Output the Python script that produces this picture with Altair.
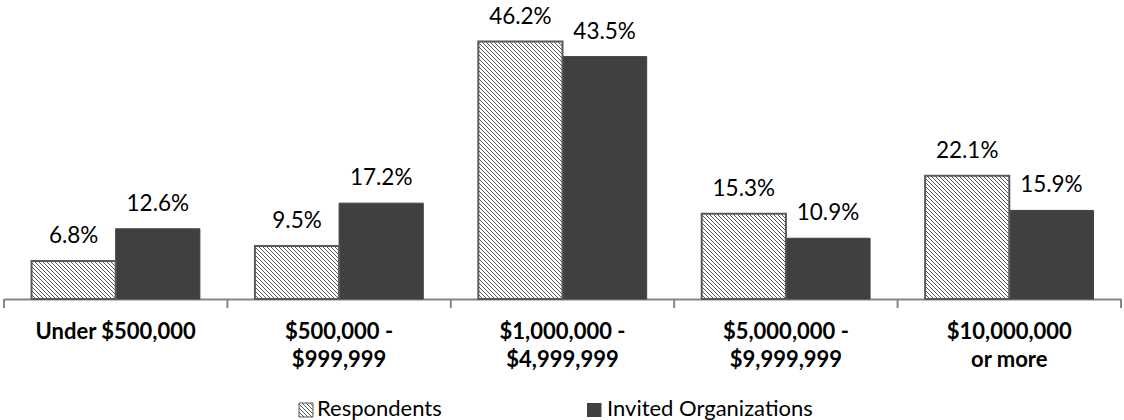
import math

import altair as alt
import pandas as pd

# Budget bands and the share of each group falling in them (%)
categories = [
    "Under $500,000",
    "$500,000 -\n$999,999",
    "$1,000,000 -\n$4,999,999",
    "$5,000,000 -\n$9,999,999",
    "$10,000,000\nor more",
]
series = ["Respondents", "Invited Organizations"]
respondents = [6.8, 9.5, 46.2, 15.3, 22.1]
invited = [12.6, 17.2, 43.5, 10.9, 15.9]

# Layout
W = 1117          # plot width
H = 278.6         # plot height
YMAX = 50
PAD_OUTER = 0.327  # space either side of each pair of bars, in bar widths
BAR_W = W / len(categories) / (2 + 2 * PAD_OUTER)

DARK = "#404040"
INK = "#595959"
AXIS = "#868686"
FONT = "Lato"

df = pd.DataFrame({
    "idx": list(range(len(categories))) * 2,
    "category": categories * 2,
    "series": [series[0]] * len(categories) + [series[1]] * len(categories),
    "value": respondents + invited,
})


def hatch(w, h, period=4.0, ink_px=1.0):
    """Linear gradient drawing '\\' stripes at 45 degrees over a w x h box.

    The gradient runs along x - y (in pixels) with an exact period, so every
    row of the box sees the same stripe spacing.
    """
    n = math.ceil((w + h) / period)
    span = n * period
    d = w * w + h * h
    frac = ink_px / period
    stops = []
    for i in range(n):
        a, b, c = i / n, (i + frac) / n, (i + 1) / n
        stops += [
            alt.GradientStop(offset=a, color=INK),
            alt.GradientStop(offset=b, color=INK),
            alt.GradientStop(offset=b, color="white"),
            alt.GradientStop(offset=c, color="white"),
        ]
    return alt.LinearGradient(
        gradient="linear", stops=stops,
        x1=0, y1=1, x2=span * w / d, y2=1 - span * h / d,
    )


x_axis = alt.Axis(
    title=None, ticks=False, tickSize=0, domain=True,
    domainColor=AXIS, domainWidth=2, labelAngle=0,
    labelFont=FONT, labelFontSize=22, labelFontWeight="bold",
    labelColor="black", labelPadding=22.4, labelLineHeight=28.4,
    labelLimit=400, labelOverlap=False,
    labelExpr="split(datum.label, '\\n')",
)
x_scale = alt.Scale(paddingInner=0, paddingOuter=0)


def x_enc(**kw):
    return alt.X("category:N", sort=categories, scale=x_scale, axis=x_axis, **kw)


xoff = alt.XOffset("series:N", sort=series,
                   scale=alt.Scale(domain=series, paddingInner=0, paddingOuter=PAD_OUTER))
y_enc = alt.Y("value:Q", scale=alt.Scale(domain=[0, YMAX]), axis=None)

base = alt.Chart(df).encode(x=x_enc(), xOffset=xoff, y=y_enc)

layers = []

# Invited organizations: solid dark bars
layers.append(
    base.transform_filter(alt.datum.series == series[1])
    .mark_bar(fill=DARK, stroke=DARK, strokeWidth=1)
)

# Respondents: hatched bars, one gradient per bar sized to its box
for i, v in enumerate(respondents):
    h = v * H / YMAX
    layers.append(
        base.transform_filter(f"datum.series == '{series[0]}' && datum.idx == {i}")
        .mark_bar(fill=hatch(BAR_W, h), stroke=INK, strokeWidth=2)
    )

# Value labels
layers.append(
    base.transform_calculate(label="format(datum.value, '.1f') + '%'")
    .mark_text(font=FONT, fontSize=22.5, color="black", baseline="alphabetic", dy=-18)
    .encode(text="label:N")
)

# Category tick marks at band edges
ticks = alt.Chart(df[df.series == series[0]])
layers.append(
    ticks.mark_rule(color=AXIS, strokeWidth=2).encode(
        x=x_enc(bandPosition=0), y=alt.value(H), y2=alt.value(H + 9)
    )
)
layers.append(
    ticks.transform_filter(f"datum.idx == {len(categories) - 1}")
    .mark_rule(color=AXIS, strokeWidth=2).encode(
        x=x_enc(bandPosition=1), y=alt.value(H), y2=alt.value(H + 9)
    )
)

# Legend
legend_df = pd.DataFrame({"series": series, "i": [0, 1]})
leg = alt.Chart(legend_df)
sw_top, sw_bot, text_base = 382.6, 396.6, 395.6
layers.append(
    leg.transform_filter("datum.i == 0").mark_rect(
        fill=hatch(14, 14), stroke=INK, strokeWidth=1
    ).encode(x=alt.value(295), x2=alt.value(309), y=alt.value(sw_top), y2=alt.value(sw_bot))
)
layers.append(
    leg.transform_filter("datum.i == 1").mark_rect(fill=DARK).encode(
        x=alt.value(583), x2=alt.value(597.5), y=alt.value(sw_top), y2=alt.value(sw_bot)
    )
)
layers.append(
    leg.transform_filter("datum.i == 0").mark_text(
        font=FONT, fontSize=22, color="black", align="left", baseline="alphabetic"
    ).encode(x=alt.value(313), y=alt.value(text_base), text="series:N")
)
layers.append(
    leg.transform_filter("datum.i == 1").mark_text(
        font=FONT, fontSize=22, color="black", align="left", baseline="alphabetic"
    ).encode(x=alt.value(603), y=alt.value(text_base), text="series:N")
)

chart = (
    alt.layer(*layers)
    .properties(
        width=W, height=H,
        padding={"left": 4, "top": 20.4, "right": 3, "bottom": 121},
        autosize=alt.AutoSizeParams(type="none"),
        background="white",
    )
    .configure_view(stroke=None)
)

chart.save("out.html", embed_options={"renderer": "svg", "actions": False})
